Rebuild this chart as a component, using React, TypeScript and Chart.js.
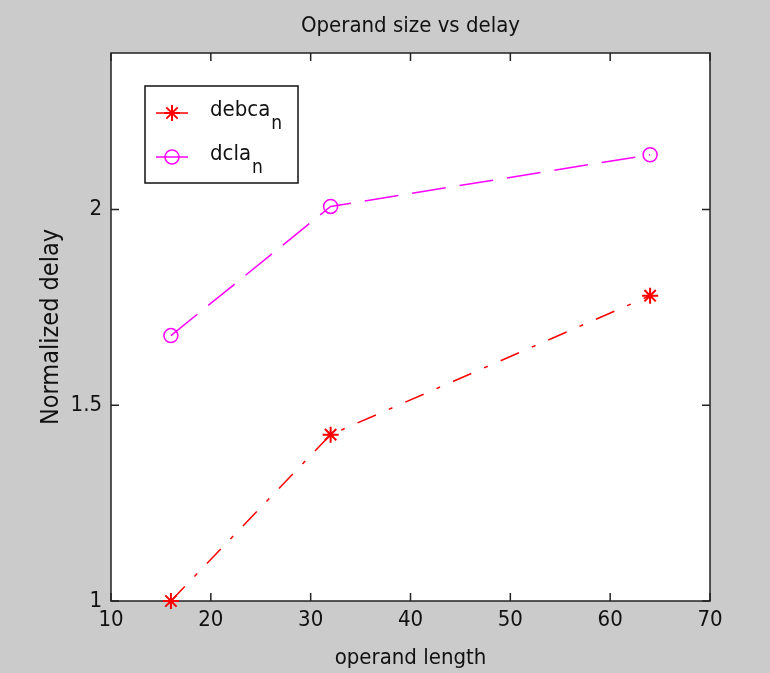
import React, { useEffect, useRef } from 'react';
import { Chart, registerables } from 'chart.js';

Chart.register(...registerables);

// ---- data ----
const operandLengths = [16, 32, 64];
const debcaValues = [1.0, 1.425, 1.78];
const dclaValues = [1.678, 2.008, 2.14];
const seriesNames = ['debca', 'dcla'];
const seriesSubscript = 'n';
const xTickValues = [10, 20, 30, 40, 50, 60, 70];
const yTickLabels = ['1', '1.5', '2'];
const titleText = 'Operand size vs delay';
const xTitleText = 'operand length';
const yTitleText = 'Normalized delay';

const FONT = "'Liberation Sans Narrow', 'DejaVu Sans Condensed', 'Arial Narrow', sans-serif";
const TEXT = '#111111';
const RED = '#ff0000';
const MAGENTA = '#ff00ff';

const framePlugin = {
  id: 'matlabFrame',
  beforeDraw(chart: any) {
    const { ctx, chartArea: a, width, height } = chart;
    ctx.save();
    ctx.fillStyle = '#cbcbcb';
    ctx.fillRect(0, 0, width, height);
    ctx.fillStyle = '#ffffff';
    ctx.fillRect(a.left, a.top, a.right - a.left, a.bottom - a.top);
    ctx.fillStyle = TEXT;
    ctx.font = `22px ${FONT}`;
    ctx.textAlign = 'center';
    ctx.textBaseline = 'middle';
    ctx.fillText(titleText, (a.left + a.right) / 2, 26);
    ctx.restore();
  },
  beforeDatasetsDraw(chart: any) {
    const { ctx, chartArea: a, scales } = chart;
    ctx.save();
    ctx.strokeStyle = '#222222';
    ctx.lineWidth = 1.5;
    ctx.strokeRect(a.left, a.top, a.right - a.left, a.bottom - a.top);
    const tl = 8;
    ctx.beginPath();
    xTickValues.forEach((v) => {
      const x = scales.x.getPixelForValue(v);
      ctx.moveTo(x, a.bottom);
      ctx.lineTo(x, a.bottom - tl);
      ctx.moveTo(x, a.top);
      ctx.lineTo(x, a.top + tl);
    });
    yTickLabels.forEach((l) => {
      const y = scales.y.getPixelForValue(Number(l));
      ctx.moveTo(a.left, y);
      ctx.lineTo(a.left + tl, y);
      ctx.moveTo(a.right, y);
      ctx.lineTo(a.right - tl, y);
    });
    ctx.stroke();
    ctx.restore();
  },
  afterDatasetsDraw(chart: any) {
    const { ctx, chartArea: a } = chart;
    const bx = a.left + 34;
    const by = a.top + 33;
    const bw = 153;
    const bh = 97;
    ctx.save();
    ctx.fillStyle = '#ffffff';
    ctx.fillRect(bx, by, bw, bh);
    ctx.strokeStyle = '#111111';
    ctx.lineWidth = 1.5;
    ctx.strokeRect(bx, by, bw, bh);
    const colors = [RED, MAGENTA];
    const rows = [27, 71];
    seriesNames.forEach((name, i) => {
      const y = by + rows[i];
      const c = colors[i];
      ctx.strokeStyle = c;
      ctx.lineWidth = 1.5;
      ctx.setLineDash([]);
      ctx.beginPath();
      ctx.moveTo(bx + 11, y);
      ctx.lineTo(bx + 43, y);
      ctx.stroke();
      const cx = bx + 27;
      if (i === 0) {
        const r = 8;
        ctx.lineWidth = 2;
        ctx.beginPath();
        ctx.moveTo(cx - r, y); ctx.lineTo(cx + r, y);
        ctx.moveTo(cx, y - r); ctx.lineTo(cx, y + r);
        const d = r * 0.707;
        ctx.moveTo(cx - d, y - d); ctx.lineTo(cx + d, y + d);
        ctx.moveTo(cx - d, y + d); ctx.lineTo(cx + d, y - d);
        ctx.stroke();
      } else {
        ctx.lineWidth = 1.5;
        ctx.beginPath();
        ctx.arc(cx, y, 7, 0, Math.PI * 2);
        ctx.stroke();
      }
      ctx.fillStyle = TEXT;
      ctx.textBaseline = 'middle';
      ctx.textAlign = 'left';
      ctx.font = `22px ${FONT}`;
      const tx = bx + 65;
      ctx.fillText(name, tx, y - 3);
      const w = ctx.measureText(name).width;
      ctx.font = `19px ${FONT}`;
      ctx.fillText(seriesSubscript, tx + w + 1, y + 11);
    });
    ctx.restore();
  },
};

export default function App() {
  const canvasRef = useRef<HTMLCanvasElement | null>(null);

  useEffect(() => {
    document.body.style.margin = '0';
    const canvas = canvasRef.current;
    if (!canvas) return;
    const chart = new Chart(canvas, {
      type: 'line',
      data: {
        datasets: [
          {
            label: seriesNames[0],
            data: operandLengths.map((x, i) => ({ x, y: debcaValues[i] })),
            borderColor: RED,
            backgroundColor: RED,
            borderWidth: 1.5,
            borderDash: [20, 14, 4, 14],
            pointStyle: 'star',
            pointRadius: 8,
            pointBorderWidth: 2,
            pointBorderColor: RED,
            pointBackgroundColor: RED,
            fill: false,
            tension: 0,
            clip: false,
          } as any,
          {
            label: seriesNames[1],
            data: operandLengths.map((x, i) => ({ x, y: dclaValues[i] })),
            borderColor: MAGENTA,
            backgroundColor: 'rgba(0,0,0,0)',
            borderWidth: 1.5,
            borderDash: [34, 14],
            pointStyle: 'circle',
            pointRadius: 7,
            pointBorderWidth: 1.5,
            pointBorderColor: MAGENTA,
            pointBackgroundColor: 'rgba(0,0,0,0)',
            fill: false,
            tension: 0,
            clip: false,
          } as any,
        ],
      },
      options: {
        animation: false,
        responsive: false,
        devicePixelRatio: 1,
        events: [],
        layout: { padding: { left: 0, right: 60, top: 53, bottom: 0 } },
        plugins: {
          legend: { display: false },
          tooltip: { enabled: false },
          title: { display: false },
        },
        scales: {
          x: {
            type: 'linear',
            min: 10,
            max: 70,
            ticks: {
              stepSize: 10,
              color: TEXT,
              font: { family: FONT, size: 22 },
              padding: 6,
              maxRotation: 0,
              autoSkip: false,
            },
            grid: { display: false, drawTicks: false },
            border: { display: false },
            title: {
              display: true,
              text: xTitleText,
              color: TEXT,
              font: { family: FONT, size: 22 },
              padding: { top: 0, bottom: 2 },
            },
            afterFit(s: any) {
              s.height = 72;
            },
          },
          y: {
            type: 'linear',
            min: 1,
            max: 2.4,
            ticks: {
              stepSize: 0.5,
              includeBounds: false,
              color: TEXT,
              font: { family: FONT, size: 22 },
              padding: 9,
              callback: (v: any) => {
                const l = yTickLabels.find((t) => Math.abs(Number(t) - Number(v)) < 1e-9);
                return l ?? '';
              },
            },
            grid: { display: false, drawTicks: false },
            border: { display: false },
            title: {
              display: true,
              text: yTitleText,
              color: TEXT,
              font: { family: FONT, size: 25 },
              padding: { top: 36, bottom: 0 },
            },
            afterFit(s: any) {
              s.width = 111;
            },
          },
        },
      },
      plugins: [framePlugin],
    } as any);
    return () => chart.destroy();
  }, []);

  return (
    <canvas
      ref={canvasRef}
      width={770}
      height={673}
      style={{ display: 'block', width: '770px', height: '673px' }}
    />
  );
}
